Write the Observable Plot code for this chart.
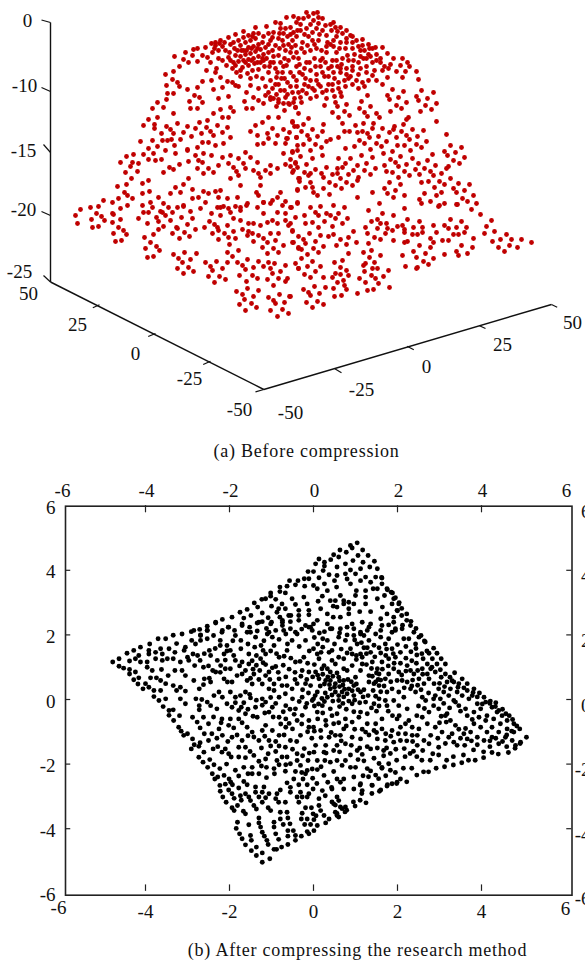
<!DOCTYPE html>
<html><head><meta charset="utf-8">
<script src="https://cdn.jsdelivr.net/npm/d3@7"></script>
<script src="https://cdn.jsdelivr.net/npm/@observablehq/plot@0.6"></script>
<style>
html,body{margin:0;padding:0;background:#fff;width:585px;height:962px;overflow:hidden}
#a,#b{position:absolute;left:0}
#a{top:0}#b{top:470px}
.cap{position:absolute;font:18px "Liberation Serif",serif;color:#111;white-space:nowrap;transform:translate(-50%,-50%);letter-spacing:.78px}
</style></head><body>
<div id="a"></div><div id="b"></div>
<div class="cap" style="left:306.5px;top:451px">(a) Before compression</div>
<div class="cap" style="left:357.5px;top:950px">(b) After compressing the research method</div>
<script>
// Panel (a): points as read in the projected plane of the 3-D view
const redPoints=[
[174,56],[185,52],[192,55],[193,49],[197,48],[202,55],[183,59],[188,62],[197,61],[207,57],[210,62],[179,66],[165,74],[173,71],[206,70],[215,72],[172,79],[166,85],[177,82],[179,86],[202,81],[211,80],[220,77],[227,81],[232,82],[222,87],[213,89],[197,87],[187,89],[173,93],[167,93],[194,95],[199,97],[202,102],[189,101],[166,99],[157,102],[152,108],[163,107],[190,108],[197,108],[173,113],[218,98],[228,96],[244,101],[246,108],[252,108],[230,107],[233,111],[220,109],[213,113],[207,120],
[148,119],[143,125],[157,117],[154,124],[154,128],[166,126],[161,133],[170,129],[177,123],[187,126],[195,128],[199,122],[222,117],[228,117],[227,127],[217,125],[206,127],[210,131],[213,135],[201,133],[191,136],[183,132],[180,139],[173,133],[171,139],[162,140],[167,140],[152,140],[140,141],[148,148],[157,146],[174,145],[187,149],[197,147],[202,142],[208,142],[215,145],[223,143],[230,137],[222,132],[250,131],[255,125],[262,122],[268,117],[278,117],[272,128],[257,135],[267,133],[268,138],[277,135],[283,129],[292,121],[297,126],[287,138],[296,137],[257,144],[263,143],[275,143],[285,143],
[120,162],[126,156],[133,154],[132,162],[138,163],[130,166],[125,172],[137,171],[131,178],[117,186],[126,184],[142,183],[148,180],[143,154],[148,159],[153,153],[155,160],[161,159],[165,150],[169,167],[163,172],[173,169],[179,164],[175,153],[187,150],[188,161],[195,155],[203,153],[198,160],[197,168],[203,173],[202,162],[208,168],[213,172],[218,165],[211,155],[222,157],[230,155],[228,163],[233,167],[236,171],[238,158],[245,152],[243,163],[245,168],[250,157],[257,162],[253,170],[258,173],[260,177],[265,170],[270,165],[277,168],[270,173],[285,164],[293,170],[295,163],[283,153],[292,152],[297,150],[298,178],
[188,178],[183,184],[175,187],[170,193],[180,192],[192,189],[203,191],[208,193],[215,191],[220,190],[230,178],[238,175],[240,185],[260,185],[256,192],[258,195],[280,192],[277,197],[272,200],[263,202],[285,201],[297,189],[297,202],[149,191],[142,193],[132,198],[127,195],[124,192],[118,198],[112,202],[103,200],[98,206],[127,205],[120,208],[112,213],[90,207],[80,209],[75,215],[142,205],[150,202],[158,197],[163,203],[152,207],[160,211],[168,207],[177,207],[183,205],[192,198],[198,197],[205,202],[218,197],[227,198],[237,197],[247,203],[240,207],[228,208],[220,207],
[77,223],[91,219],[96,213],[92,227],[98,226],[101,216],[104,220],[112,222],[113,214],[120,219],[118,227],[113,233],[123,230],[126,234],[115,241],[121,240],[138,218],[143,212],[148,212],[156,217],[158,221],[147,223],[163,226],[158,229],[153,234],[144,237],[150,242],[156,246],[159,250],[145,248],[153,256],[147,257],[162,212],[165,215],[170,220],[172,212],[176,227],[181,217],[183,206],[190,211],[192,218],[187,224],[177,228],[172,233],[184,232],[179,238],[189,236],[195,229],[204,227],[209,221],[200,208],[211,213],[217,207],[223,206],[220,215],[230,212],[235,206],[240,210],[246,205],[248,223],[240,220],[233,218],[227,225],[217,227],[214,224],[218,230],[224,233],[212,233],[218,239],[233,231],[228,237],[235,238],[229,244],[238,250],[227,252],[232,256],[227,262],[237,262],[242,265],[247,259],[245,269],[253,267],[258,261],[263,266],[268,262],[270,268],[274,263],[285,265],[280,271],[272,273],[287,278],[285,281],[278,278],[267,279],[273,285],[257,278],[252,275],[246,281],[239,275],[205,262],[210,266],[216,261],[212,270],[222,268],[208,276],[219,276],[214,282],[225,279],[173,254],[178,258],[184,252],[182,262],[190,259],[196,253],[188,267],[177,268],[193,271],[183,273],[236,291],[247,288],[258,290],[253,296],[242,294],[244,299],[239,304],[251,303],[256,307],[245,310],[268,297],[273,300],[275,303],[289,296],[279,294],[284,302],[270,310],[282,309],[288,313],[277,316],
[252,233],[247,235],[253,241],[258,235],[263,238],[267,242],[262,247],[267,253],[273,248],[278,252],[283,245],[275,240],[270,233],[278,233],[267,222],[277,223],[272,220],[285,220],[288,225],[293,242],[292,230],[298,247],[295,263],[298,268],[263,213],[257,207],[263,202],[270,203],[277,212],[282,205],[290,207],[248,231],[242,229],[253,223],[260,225],
[306,12],[313,13],[317,12],[318,17],[322,18],[333,22],[330,24],[340,27],[335,27],[346,30],[350,35],[362,39],[368,44],[382,47],[387,53],[393,58],[402,58],[407,62],[400,65],[409,66],[416,71],[396,71],[405,71],[402,77],[418,79],[387,77],[392,89],[403,91],[421,90],[433,92],[387,95],[389,99],[398,97],[416,96],[418,100],[427,98],[436,103],[406,102],[396,105],[401,108],[425,105],[431,109],[420,111],[390,111],[436,121],[408,117],[406,119],[403,124],[446,134],[450,145],[461,147],[455,152],[444,151],[447,155],[464,157],[453,160],[459,163],[432,154],[427,160],[418,163],[435,165],[448,166],[446,168],[441,173],[430,171],[433,175],[424,168],[415,169],[409,175],[419,174],[404,171],[398,177],[392,172],[386,171],[384,165],[375,168],[370,174],[364,170],[366,163],[357,165],[353,170],[350,158],[345,163],[342,167],[338,158],[326,167],[322,155],[337,168],[337,173],[332,174],[348,174],[358,177],[357,180],[346,182],[352,185],[340,178],[341,188],[335,185],[329,182],[321,173],[323,177],[315,169],[310,173],[304,172],[299,178],[299,181],[308,175],[310,182],[305,187],[297,190],[312,187],[313,192],[317,195],[323,188],[329,194],[372,192],[357,197],[384,188],[387,193],[395,190],[393,197],[389,182],[400,184],[404,195],[419,199],[421,203],[424,193],[430,201],[421,182],[428,181],[434,187],[439,181],[444,184],[450,178],[458,183],[453,188],[456,192],[464,190],[469,184],[473,195],[462,198],[467,201],[476,203],[471,209],[480,214],[457,204],[444,203],[439,205],[436,195],[441,192],
[531,242],[521,239],[517,247],[511,239],[509,245],[504,251],[498,247],[500,239],[492,241],[506,234],[494,231],[484,233],[486,226],[491,220],[473,238],[472,247],[467,253],[458,255],[456,251],[461,245],[464,232],[466,227],[456,227],[461,221],[450,219],[444,225],[448,228],[453,234],[458,234],[448,240],[442,240],[436,232],[433,225],[430,238],[433,242],[430,247],[425,253],[444,254],[433,258],[428,264],[423,261],[417,267],[416,257],[413,251],[419,245],[422,227],[419,221],[413,227],[412,234],[417,234],[422,232],[407,219],[402,225],[397,226],[404,229],[404,232],[407,241],[404,242],[393,240],[392,230],[387,228],[385,233],[380,239],[374,237],[368,243],[367,233],[365,227],[377,228],[371,221],[377,219],[382,213],[393,215],[386,223],[380,223],[402,255],[405,266],[416,268],[371,250],[363,252],[380,255],[369,257],[374,262],[365,263],[363,265],[364,271],[372,268],[377,268],[388,270],[371,275],[375,278],[383,276],[359,278],[365,282],[378,283],[389,287],[373,289],[367,290],[357,293],[348,275],[346,270],[340,274],[342,260],[334,262],[340,267],[335,273],[332,277],[323,277],[337,282],[343,280],[344,285],[346,289],[333,288],[325,287],[334,296],[341,295],[319,293],[314,286],[308,292],[303,289],[310,295],[306,302],[312,307],[317,301],[323,304],[290,296],[320,266],[315,271],[310,277],[304,274],[307,266],[298,268],[301,258],[312,261],[307,254],[318,252],[313,248],[323,246],[301,249],[298,248],[315,241],[305,243],[303,239],[309,233],[320,235],[328,236],[333,234],[336,245],[346,244],[340,239],[348,237],[353,231],[356,242],[348,253],[292,242],[298,236],[292,231],[305,223],[312,222],[318,227],[324,221],[332,226],[335,218],[342,223],[347,218],[338,213],[330,215],[326,213],[318,215],[315,212],[304,215],[295,217],[344,207],[333,205],[320,206],[310,207],[297,203],[291,207],[285,213],[290,223],[368,210],[379,203],[404,208],[438,206],[456,204],
[292,122],[303,124],[308,118],[294,126],[323,124],[312,129],[322,131],[289,132],[301,131],[307,135],[317,136],[296,137],[309,139],[330,139],[326,141],[338,137],[344,131],[349,131],[355,125],[357,132],[362,131],[363,123],[342,123],[338,117],[349,115],[344,111],[346,104],[335,102],[337,106],[332,112],[324,105],[341,96],[359,108],[361,101],[367,95],[364,112],[367,116],[370,106],[376,113],[379,117],[373,123],[372,128],[382,128],[394,126],[393,129],[389,132],[401,131],[412,129],[423,130],[367,133],[369,137],[378,136],[386,141],[396,137],[406,135],[409,139],[417,136],[426,141],[416,144],[421,147],[404,145],[397,145],[410,150],[392,151],[381,146],[376,143],[370,149],[364,143],[359,140],[354,146],[345,148],[383,153],[372,157],[361,155],[400,156],[390,159],[395,162],[398,166],[406,164],[412,158],[297,145],[303,144],[315,144],[321,147],[310,150],[292,151],[300,156],[312,158],[290,159],[295,162],[297,167],[306,164],[292,172],[290,166],[286,138],[289,104],[295,107],[298,113],
[205,47],[211,43],[215,42],[220,40],[228,37],[235,34],[243,31],[255,27],[253,33],[266,26],[275,22],[280,23],[286,17],[293,16],[298,18],[280,28],[273,32],[283,33],[290,27],[293,32],
[240,45],[245,42],[250,40],[255,38],[237,50],[243,50],[248,47],[253,46],[258,44],[262,42],[235,55],[240,56],[245,54],[250,53],[255,51],[260,49],[265,47],[270,40],[238,61],[243,60],[248,59],[253,58],[258,56],[263,54],[233,62],[228,57],[225,50],[222,46],[218,50],[215,45],[212,52],[218,58],[222,60],[226,65],[216,68],[232,68],[236,72],[242,67],[248,65],[254,63],[260,62],[266,58],[272,50],[275,45],[278,38],[282,40],[287,36],[240,76],[247,73],[252,70],[258,69],[264,66],[270,62],[268,72],[275,68],[280,62],[278,55],[285,50],[288,44],[292,40],[296,36],[300,30],[295,45],[290,52],[284,58],[286,65],[282,72],[276,77],[270,80],[278,84],[284,78],[290,72],[296,66],[298,58],[304,52],[302,42],[308,36],[306,28],[310,24],[300,24],[312,32],[316,28],[322,30],[326,35],[318,40],[316,48],[310,50],[314,58],[306,62],[310,70],[302,74],[296,80],[290,86],[284,90],[276,94],[270,97],[278,99],[285,97],[292,92],[298,92],[304,84],[310,80],[316,74],[320,66],[322,58],[326,52],[330,44],[336,36],[340,42],[345,48],[352,42],[358,46],[364,50],[372,48],[376,54],[380,58],[372,62],[366,58],[360,56],[354,54],[348,60],[342,58],[336,52],[332,60],[328,68],[324,76],[318,84],[312,88],[306,93],[300,97],[294,98],[328,84],[334,78],[340,72],[346,68],[352,66],[360,68],[366,66],[374,70],[380,62],[384,66],[388,68],[344,80],[338,88],[332,90],[322,92],[316,96],[310,98],[350,76],[356,80],[362,82],[368,80],[376,80],[382,84],[337,66],
[273,98],[278,102],[265,95],[270,99],[258,100],[253,97],[246,92],[238,86],[235,85],[250,85],[263,103],[284,110],[288,103],[295,107],
[214,48],[219,43],[224,42],[230,44],[234,48],[229,52],[233,42],[238,40],[243,37],[248,35],[252,36],[258,33],[263,36],[268,33],[272,37],[268,44],
[296,22],[303,18],[308,16],[313,20],[318,23],[325,25],[331,30],[337,31],[342,33],[346,38],[352,36],[290,34],[285,28],[279,33],[297,30],[304,34],[312,40],[319,34],[327,42],[333,40],
[356,40],[362,45],[369,48],[375,47],[368,54],[360,50],[352,48],[346,42],[339,48],[333,46],[326,46],[321,50],[314,44],[307,45],[301,48],[296,52],[291,47],[283,45],[279,48],[273,56],[268,52],[262,58],[257,48],[251,48],[246,50],[241,50],
[230,60],[235,65],[240,70],[245,62],[251,60],[257,62],[263,60],[269,66],[273,62],[277,72],[283,66],[288,60],[293,57],[299,64],[304,68],[309,62],[315,66],[320,60],[325,62],[331,66],[336,60],[341,64],[347,55],[353,60],[358,62],[363,58],[370,56],[376,60],[382,70],[390,64],[372,75],[366,72],[358,74],[352,70],[346,74],[340,68],[333,72],[328,76],[322,72],[316,80],[305,78],[299,72],[293,76],[287,82],[281,78],[275,84],
[262,78],[256,76],[250,78],[265,86],[272,88],[280,90],[287,94],[296,86],[302,90],[308,86],[314,90],[320,86],[326,90],[332,84],[338,82],[345,86],[352,84],[358,88],[364,86],[340,92],[348,78],[334,96],[326,98],[301,102],[293,102],[283,103],[276,106],[268,92],[258,88]
];
// Panel (a) axes of the 3-D box
const zAxisLabels=["0","-10","-15","-20","-25"];
const leftAxisLabels=["50","25","0","-25","-50"];
const rightAxisLabels=["-50","-25","0","25","50"];
const frame3d=[{a:[50,22],b:[50,281.5]},{a:[50,281.5],b:[263.3,389]},{a:[263.3,389],b:[551,304]}];
const ticks3d=[
{a:[41,19.5],b:[50,22]},{a:[41,87],b:[50,91]},{a:[43,144],b:[50,152]},{a:[41,211],b:[50,215]},{a:[43,275],b:[50,281.5]},
{a:[92.3,307.3],b:[99,304.3]},{a:[147.7,336],b:[155,333]},{a:[202.7,364],b:[210,360.7]},{a:[255,391.3],b:[263.3,389]},
{a:[334.3,368.3],b:[341,372.3]},{a:[406.7,345.7],b:[413.3,349.3]},{a:[479,325.3],b:[485,328]},{a:[551,304],b:[556.7,306.7]}
];
const labels3d=[
...zAxisLabels.map((t,i)=>({t,p:[[27,20],[24,85],[23,150],[23,209],[19,271]][i]})),
...leftAxisLabels.map((t,i)=>({t,p:[[28,293],[77,324],[135,353],[189,378],[239,409]][i]})),
...rightAxisLabels.map((t,i)=>({t,p:[[290,412],[361,389],[426,366],[502,344],[572,322]][i]}))
];
// Panel (b): values on the [-6,6] axes
const xTicks=[-6,-4,-2,0,2,4,6];
const yTicks=[-6,-4,-2,0,2,4,6];
const blackLeft=[
[-4.78,1.16],[-4.63,1.26],[-4.63,1.03],[-4.52,.97],[-4.44,1.43],[-4.38,1.19],[-4.38,.93],[-4.38,.79],[-4.28,1.52],[-4.24,.85],[-4.28,.61],[-4.18,.48],[-4.12,1.62],[-4.24,1.26],[-4.16,1.36],[-4.12,1.16],[-4.16,.67],[-4.06,.33],[-4,.49],[-3.9,1.72],[-3.92,1.52],[-3.92,1.41],[-3.96,1.16],[-3.96,1],[-3.84,.9],[-3.88,.67],[-3.92,.38],[-3.8,.28],[-3.8,.09],[-3.76,1.26],[-3.76,1.46],[-3.7,1.88],[-3.64,1.57],[-3.6,1.41],[-3.6,1.21],[-3.62,.93],[-3.74,.67],[-3.64,.59],[-3.52,.49],[-3.64,.28],[-3.68,-.03],[-3.58,-.22],[-3.52,.02],[-3.44,-.34],[-3.52,1.88],[-3.44,1.57],[-3.48,1.26],[-3.46,.74],[-3.34,1.99],[-3.26,1.73],[-3.3,1.46],[-3.34,1.26],[-3.3,.9],[-3.34,.43],[-3.26,.28],[-3.34,-.32],[-3.44,-.49],[-3.33,-.65],[-3.19,-.5],[-3.13,2.03],[-3.05,1.62],[-3.08,1.52],[-3,1.31],[-3.17,1.16],[-3.13,.9],[-3.05,.74],[-3.17,.38],[-3.05,.26],[-3.17,.02],[-3.05,-.13],[-3.21,-.86],[-3.09,-1.11],[-3.15,-.98],[-2.85,2.14],[-2.9,1.83],[-2.81,1.72],[-2.87,1.41],[-2.76,1.36],[-2.97,1.21],[-2.83,1.05],[-2.7,1.21],[-2.62,1],[-2.85,.59],[-2.6,.64],[-2.72,.33],[-2.8,.02],[-2.66,0],[-2.53,-.08],[-2.72,-.19],[-2.72,-.32],[-2.45,-.19],[-2.88,-.55],[-2.77,-.7],[-2.62,-.55],[-2.7,-.88],[-2.5,-.75],[-3,-1.06],[-2.88,-1.22],[-2.6,-1.06],[-2.5,-1.27],
[-2.69,1.98],[-2.69,1.83],[-2.53,2.14],[-2.53,1.88],[-2.38,1.98],[-2.22,1.83],[-2.22,1.67],[-2.06,1.67],[-2.13,1.41],[-1.98,1.52],[-2.45,1.36],[-2.29,1.21],[-2.21,1.05],[-2.33,.85],[-2.13,.64],[-2.05,.54],[-2.45,.54],[-2.25,.23],[-2.37,.12],[-2.17,.07],[-1.98,.23],[-2.06,-.13],[-2.3,-.29],[-1.86,.07],[-1.74,.12],[-1.62,.23],[-1.5,.05],[-1.94,.54],[-1.7,.79],[-1.54,1.1],[-1.46,1.2],[-1.86,1.21],[-1.7,1.16],[-2.1,.95],[-1.98,.95],[-1.82,.74],[-1.58,.59],[-1.46,.48],[-1.22,.02],[-1.22,.48],[-1.14,.74],[-1.06,.85],[-1.42,.79],[-1.54,1.41],[-1.73,1.83],[-1.86,1.98],[-2.02,2.24],[-2.18,2.08],[-2.33,2.39],[-1.7,2.29],[-1.73,1.57],[-1.5,2.08],[-1.38,1.93],[-1.3,2.39],[-1.25,1.67],[-1.1,2.03],[-1,2.39],[-.98,1.93],[-.94,1.67],[-1.14,1.41],[-1.26,1.26],[-.82,1.31],[-.66,2.03],[-.74,2.39],[-.51,1.83],[-.63,1.52],[-.43,1.16],[-.19,1.83],[-.07,2.24],[-.39,2.03],[-.11,.85],[-.27,.9],[-.23,1.31],[-.82,.64],[-.94,.48],[-.75,.43],[-.63,.43],[-1.06,.33],[-.94,.28],[-.82,.07],[-.67,.18],[-.51,.33],[-.39,.49],[-.19,.49],[-.07,.43],[-.5,.02],[-.27,.07],[-.43,-.29],[-.19,-.24],[-.03,-.03],[-.66,-.19],[-.98,-.24],[-1.14,-.08],[-1.06,-.39],[-1.38,-.24],[-1.34,-.55],[-1.62,-.44],[-1.78,-.34],[-1.78,-.6],[-1.94,-.24],[-2.18,-.6],[-1.98,-.6],[-2.25,-.91],[-2.02,-.8],[-1.9,-.88],[-1.58,-.86],[-1.46,-1.01],[-2.17,-1.11],[-1.94,-1.17],[-1.7,-1.27],[-1.22,-.96],[-1.14,-.8],[-.98,-.96],[-.82,-1.11],[-.66,-.86],[-.5,-.91],[-.39,-.65],[-.27,-.49],[-.11,-.65],[-.11,-.86],[-.31,-1.11],[-.55,-1.27],[-.82,-.55],[-.66,-.6],[-1.3,-1.27],[-1.06,-1.27]
];
const blackRight=[
[2.31,2.29],[2.39,2.08],[2.51,1.93],[2.64,1.81],[2.86,1.59],[2.94,1.43],[3.04,1.26],[3.14,1.1],[3.36,.83],[3.54,.64],[3.82,.33],[3.95,.2],[4.21,-.05],[4.33,-.22],[4.41,-.34],[4.61,-.65],[4.77,-.75],[4.91,-.91],[5.07,-1.17],
[2.75,1.43],[2.83,1.26],[2.94,1.1],[3.02,.92],[3.14,.79],[3.25,.69],[3.34,.54],[3.46,.49],[3.66,.49],[3.66,.28],[3.78,.12],[4.06,.07],[4.1,-.08],[4.25,-.24],[4.37,-.39],[4.49,-.5],
[2.61,1.26],[2.71,1.1],[2.79,.95],[2.9,.85],[3.04,.69],[3.18,.54],[3.26,.33],[3.42,.23],[3.54,.12],[3.7,.02],[3.9,-.13],[3.98,-.29],[4.13,-.5],[4.29,-.6],[4.45,-.75],[4.61,-.91],[4.77,-1.01],[4.93,-1.32],
[2.45,1.12],[2.59,.95],[2.71,.79],[2.75,.64],[2.87,.49],[2.98,.33],[3.1,.23],[3.22,.12],[3.34,-.03],[3.46,-.19],[3.62,-.29],[3.82,-.39],[3.94,-.55],[4.1,-.65],[4.25,-.86],[4.41,-1.01],[4.57,-1.17],[4.73,-1.27],[4.81,-1.42],
[2.31,.9],[2.39,.79],[2.51,.64],[2.63,.49],[2.31,.33],[2.43,.23],[2.59,.07],[2.67,-.03],[2.9,.12],[3.02,.02],[2.86,-.19],[2.98,-.29],[3.14,-.5],[3.26,-.65],[3.38,-.8],[3.58,-1.06],[3.66,-1.22],[3.42,-1.42],[3.18,-.44],[2.75,-.39],[2.59,-.55],[2.71,-.75],[2.9,-.86],[3.06,-1.01],[3.22,-1.17],[3.34,-1.32],[3.82,-.75],[3.98,-.86],[4.13,-1.01],[4.25,-1.17],[4.41,-1.37],[3.9,-1.17],[4.06,-1.27],[3.74,-1.01],[2.98,-1.48],[2.79,-1.11],[2.51,-.91],[2.47,-1.11],[2.63,-1.27],[2.35,-.86],[2.19,-.75],[2.27,-.65],[2.04,-.5],[2.23,-.29],[2.03,-.19],[1.91,-.03],[2.15,.07],[2.03,.23],[1.87,.33],[1.75,.23],[1.71,-.03],[1.56,.43],[1.48,.54],[1.71,.64],[1.99,.59],[2.11,.59],[2.23,.54],[2.03,.85],[1.91,.95],[1.79,.79],[1.56,.79],[1.52,.95],[1.4,1.16],[1.63,1.16],[1.79,1.26],[2.07,1.12],[1.95,1.31],[2.23,1.05],[2.07,1.46],[1.87,1.57],[1.71,1.72],[1.79,1.88],[1.95,2.14],[2.11,2.19],[2.27,1.88],[2.43,1.72],[2.15,1.88],[1.6,1.93],[1.48,2.03],[1.32,2.24],[1.63,2.29],[1.91,2.39],[1.32,1.83],[1.2,1.98],[1.12,2.03],[1.04,1.72],[.96,1.98],[.76,1.83],[.6,1.93],[.4,2.19],[.33,1.83],[.88,1.57],[.92,1.41],[1.12,1.41],[1.16,1.31],[1.36,1.46],[.72,1.26],[.6,1.31],[.44,1.52],[.37,1.46],[.09,1.41],[0,1.57],[.13,1.26],[.44,1.21],[.52,1.1],[.92,1.05],[.8,.9],[1.16,1.1],[1.32,.74],[1.12,.9],[1,.69],[.72,.95],[.6,.69],[.4,.85],[.25,1.05],[.33,.95],[.05,.85],[.13,.64],[.29,.59],[.4,.59],[.52,.49],[.72,.59],[1.32,.54],[1.44,.49],[1.12,.23],[.96,.43],[.84,.33],[.68,.23],[.52,.23],[.4,.33],[.6,-.03],[.33,.07],[.09,.23],[0,.02],[.21,-.19],[.4,-.29],[.56,-.44],[.76,-.6],[.96,.12],[.92,-.13],[1.12,-.39],[1.24,-.08],[1.44,-.13],[1.56,.02],[1.75,-.19],[1.63,-.6],[1.48,-.75],[1.28,-.75],[1.08,-.55],[.92,-.7],[.72,-.91],[.48,-.75],[.29,-.65],[.09,-.39],[0,-.86],[.17,-.96],[.37,-1.17],[.52,-1.11],[.64,-1.11],[.92,-1.17],[1.12,-1.22],[1.24,-1.01],[1.44,-.96],[1.63,-.91],[1.87,-.96],[1.99,-.6],[2.07,-.86],[2.19,-1.06],[2.35,-1.11],[1.52,-1.22],[1.71,-1.27],[1.91,-1.32],[2.07,-1.27],[2.47,-1.42],[2.75,-1.37],[.05,-1.42],[.29,-1.42],[.56,-1.42],[.76,-1.37],
[1.83,-1.67],[1.98,-1.88],[2.18,-1.77],[2.3,-1.67],[2.46,-1.77],[2.14,-2.13],[2.34,-2.13],[2.78,-1.88],[2.58,-1.88],[2.98,-1.72],[3.17,-1.88],[3.33,-1.77],[3.57,-1.72],[3.81,-1.56],[4.05,-1.62],[4.2,-1.46],[4.6,-1.46],[1.83,-2.19],[1.63,-2.13],[1.55,-2.45],[1.39,-2.65],[1.31,-2.39],[1.11,-2.65],[1.15,-2.91],[.95,-3.17],[1.11,-3.12],[.75,-3.48],[.56,-3.53],[.52,-3.27],[.44,-3.17],
[4.92,-1.36],[4.8,-1.51],[4.64,-1.64],[4.4,-1.69],[4.25,-1.64],[4.05,-1.8],[3.85,-1.88],[3.69,-1.88],[3.53,-1.96],[3.33,-2.03],[3.12,-2.08],[2.92,-2.13],[2.74,-2.24],[2.62,-2.24],[2.46,-2.34],[2.22,-2.55],[1.98,-2.6],[1.75,-2.68],[1.57,-2.84],[1.39,-2.91],[1.25,-3.2],[.99,-3.3],[.79,-3.43],[.6,-3.64],
[1.62,3.78],[1.76,3.4],[1.88,3.3],[1.95,3.15],[2.04,3],[2.1,2.82],[2.22,2.65],[2.32,2.42],[2.44,2.2],[2.56,1.98],[2.66,1.78],[2.1,2.6],[2,2.75],[2.12,2.3],[2.22,2.45]
];
const blackLower=[
[-2.91,-1.53],[-2.73,-1.79],[-2.63,-1.94],[-2.52,-2.1],[-2.41,-2.3],[-2.35,-2.46],[-2.23,-2.66],[-2.22,-2.84],[-2.16,-3.02],[-2.08,-3.18],[-1.94,-3.35],[-1.81,-3.28],[-1.89,-3.44],[-1.67,-3.46],[-1.62,-3.54],
[-2.73,-1.45],[-2.61,-1.63],[-2.47,-1.86],[-2.37,-2.02],[-2.23,-2.14],[-2.13,-2.35],[-2.01,-2.46],[-1.97,-2.56],[-1.93,-2.64],[-2.07,-2],[-1.86,-2.19],[-1.78,-2.37],[-1.66,-2.1],[-1.66,-2.54],[-1.58,-2.64],[-1.94,-2.92],[-1.89,-3.06],[-1.62,-2.92],[-1.54,-3.02],[-1.5,-3.13],[-1.42,-3.28],[-1.36,-3.39],[-1.38,-2.71],[-1.18,-2.71],[-1.38,-2.87],[-1.22,-2.87],[-1.06,-2.92],[-1.3,-3.02],[-1.14,-3.04],[-1.22,-3.18],[-1.08,-3.35],[-1.02,-3.44],[-.9,-3.07],[-.83,-3.18],[-.87,-2.92],[-.79,-2.8],[-.67,-3.18],[-.39,-3.02],[-.35,-3.18],[-.27,-3.02],[-.15,-3.02],[-.11,-2.92],[-.31,-2.87],[-.55,-2.87],[-.55,-2.72],[-.63,-2.58],[-.47,-2.46],[-.25,-2.46],[-.35,-2.64],[-.15,-2.64],[-.01,-2.77],[.21,-2.82],[.44,-2.77],[.64,-2.56],[.72,-2.77],[.96,-2.77],[1.12,-2.61],[1.16,-2.82],[1.4,-2.66],[1.6,-2.8],[1.76,-2.64],[1.87,-2.61],[1.99,-2.56],[.56,-3.02],[.6,-3.13],[.48,-3.23],[.64,-3.33],[.68,-3.38],[.76,-3.33],[.52,-3.49],[.56,-3.59],[.13,-3.07],[.13,-3.28],[.17,-3.44],[.25,-3.59],[.37,-3.7],[.29,-3.82],[.09,-3.9],[.01,-4.06],[-.11,-4.16],[-.29,-4.23],[-.43,-4.36],[-.61,-4.49],[-.76,-4.57],[-.88,-4.64],[-.94,-4.64],[-1.04,-4.93],[-1.22,-5.04],[-1.22,-4.75],[-1.36,-4.83],[-1.48,-4.68],[-1.62,-4.5],[-1.7,-4.31],[-1.76,-4.16],[-1.84,-3.99],[-1.81,-3.8],[-1.54,-3.88],[-1.5,-4.21],[-1.48,-4.36],[-1.36,-4.57],[-1.3,-3.67],[-1.3,-3.82],[-1.26,-3.95],[-1.22,-4.11],[-1.17,-4.23],[-1.11,-4.36],[-1.08,-4.49],[-.94,-3.8],[-.94,-3.95],[-.9,-4.16],[-.83,-4.33],[-.79,-3.49],[-.79,-3.7],[-.63,-3.49],[-.61,-3.67],[-.72,-3.87],[-.56,-3.85],[-.61,-4.06],[-.48,-4.06],[-.61,-4.23],[-.43,-4.21],[-.27,-3.52],[-.19,-3.35],[-.05,-3.35],[-.01,-3.54],[-.29,-3.7],[-.15,-3.7],[.01,-3.72],[-.21,-3.87],[-.07,-3.87],[-.15,-4.09],
[-2.39,-1.53],[-2.1,-1.53],[-2.18,-1.63],[-1.96,-1.78],[-1.78,-1.78],[-1.62,-1.48],[-1.51,-1.61],[-1.42,-1.73],[-1.3,-1.91],[-1.46,-2.1],[-1.46,-2.3],[-1.3,-2.3],[-1.12,-2.1],[-.94,-2.14],[-.93,-2.3],[-.87,-1.89],[-.75,-1.78],[-.63,-1.78],[-.9,-1.61],[-.67,-1.48],[-.39,-1.68],[-.39,-1.89],[-.55,-1.99],[-.31,-2.04],[-.13,-1.89],[.01,-1.63],[.09,-1.89],[-.15,-2.2],[-.03,-2.15],[.09,-2.17],[-.67,-2.22],[-.43,-2.23],[-.19,-2.3],[.25,-2.35],[.27,-1.89],[.48,-2.23],[.56,-1.89],[.76,-1.89],[.72,-2.46],[.56,-2.46],[.43,-2.72],[.25,-1.63],[.48,-1.58],[.88,-2.1],[1,-2.1],[1.16,-1.7],[1.04,-1.58],[1.28,-2.14],[1.36,-2.21],[1.56,-1.98],[1.44,-1.82],[1.67,-1.74],[1.79,-1.99],[1.63,-2.1],[1.95,-2.26],[2.07,-2.46],[1.36,-1.53],[1.67,-1.58]
];
const blackUpper=[
[1.04,4.85],[.88,4.77],[.92,4.69],[.63,4.63],[.78,4.56],[1.17,4.63],[1.06,4.46],[1.3,4.46],[.48,4.48],[.6,4.41],[.41,4.33],[.13,4.35],[.05,4.2],[.26,4.25],[.26,4.13],[.76,4.2],[.56,4.1],[.94,4.3],[1.18,4.25],[1.45,4.28],[1.34,4.1],[1.52,4.05],[1.12,4.05],[-.13,3.96],[0,3.96],[.23,3.99],[.88,4.01],[.37,3.86],[.56,3.84],[.76,3.89],[1,3.89],[1.24,3.79],[1.48,3.79],[1.63,3.76],[-.57,3.68],[-.37,3.68],[-.22,3.74],[-.11,3.74],[.13,3.77],[-.43,3.55],[-.63,3.51],[-.21,3.51],[0,3.53],[.26,3.58],[.5,3.68],[.8,3.73],[1.12,3.68],[1.36,3.63],[1.63,3.58],[-.8,3.48],[-.8,3.34],[-.67,3.3],[-1.02,3.3],[-1.02,3.2],[.09,3.43],[.33,3.37],[.55,3.48],[.88,3.58],[1.02,3.37],[1.24,3.37],[1.42,3.43],[1.52,3.43],[1.75,3.43],[1.85,3.32],[-1.23,3.1],[-1.14,3.12],[-.9,3.1],[-1.41,2.99],[-1.33,2.86],[-1.58,2.79],[-1.75,2.7],[-1.94,2.55],[-2.17,2.48],[-2.33,2.37],[-2.53,2.27],[-2.71,2.17],[-2.91,2.1],[-1.7,2.34],[-1.49,2.6],[-1.22,2.68],[-1.08,2.53],[-1,2.89],[-.83,2.81],[-.75,2.96],[-.67,2.81],[-.87,2.7],[-.51,3.12],[-.23,3.17],[-.43,2.94],[-.35,2.76],[-.35,2.6],[-.59,2.6],[-.8,2.55],[-.15,2.96],[-.11,2.76],[-.11,2.62],[.11,3.04],[.21,3.2],[.4,3.06],[.52,3.06],[.64,3.22],[.72,3.06],[.17,2.81],[.47,2.89],[.72,2.96],[.84,3.01],[1,3.22],[1.24,3.17],[1.52,3.12],[1.69,3.22],[1.91,3.12],[.96,2.96],[1.24,2.96],[.84,2.81],[.56,2.86],[1.1,2.72],[1.36,2.72],[1.64,2.86],[1.87,2.96],[2.03,2.96],[1.75,2.65],[.33,2.65],[.47,2.55],[.64,2.55],[.84,2.65],[.92,2.34],[1.16,2.39],[1.6,2.5],[1.91,2.55],[1.99,2.76],[.09,2.45],[0,2.34],[-.11,2.24],[-.19,2.29],[.33,2.34],[.44,2.19],[.8,2.24],[1.36,2.34],[1.79,2.31],[1.95,2.19],[-.35,2.45],[-.55,2.41],[-.74,2.45],[-.74,2.29],[-1.02,2.34],[-1.22,2.41],[-1.34,2.37],[-.55,2.19],[-.43,2.08],[-.03,2.14],[.64,2.19],[.96,2.19],[1.12,2.08],[1.28,2.14],[1.6,2.14],[1.87,2.08],[-.71,2.14],[-1.06,2.08],[-1.58,2.08],[-1.88,2.14],[-2.03,2.24],[-2.17,2.14],[-2.53,2.14],[-2.69,2]
];
const blackCentre=[
[.2,.95],[.1,.75],[.22,.78],[.34,.7],[.46,.72],[.56,.82],[.62,.58],[.7,.45],[.82,.62],[.9,.55],[1.02,.48],[.16,.42],[.26,.48],[.38,.46],[.5,.38],[.62,.4],[.74,.32],[.8,.18],[.92,.27],[1.06,.3],[1.2,.3],[1.18,.08],[.28,.2],[.44,.14],[.6,.12],[.72,.08],[.04,.12],[.2,.03],[.46,-.05],[.7,-.12],[.84,-.05],[.98,-.02],[1.1,-.1],[1.3,.12],[1.42,.28],[1.6,.24],[1.48,.1],[1.68,.42],[1.84,.55],[1.54,.62],[1.4,.72],[1.6,.6],
[1.02,1.24],[1.26,1.08],[1.38,.96],[1.5,.82],[1.64,.94],[1.78,1.04],[1.92,1.12],[1.26,1.42],[1.46,1.32],[1.6,1.44],[1.72,1.36],[1.44,1.68],[1.56,1.6],[1.2,1.6],[1.02,1.36],[.8,1.44],[.66,1.56],[.5,1.72],[.22,1.62],[.18,1.46],[.1,1.72],[.22,1.88],[.02,1.92],[.14,2.06],[.26,2.1],[.62,2.06],[.8,2],[.98,1.84],[1.14,1.76],[1.28,1.6],[1.74,1.56],[1.9,1.42],[2,1.7],[2.2,1.64],[2.32,1.48],[2.44,1.58],[2.2,1.28],[2.34,1.2],[2.46,1.38],[2.58,1.42],[2.7,1.5],[2.82,1],[2.6,.78],[2.48,.9],[2.36,.6],[2.48,.44],[2.16,.36],[2.1,.76],[2.2,.88],[2.34,.42],
[3,.5],[3.12,.4],[3.3,.58],[3.44,.38],[3.58,.36],[3.8,.22],[3.9,.08],[4.02,-.14],[4.2,-.12],[4.34,-.1],[4.5,-.3],[4.66,-.5],[4.58,-.44],[4.74,-.62],[4.84,-.82],[3.1,-.12],[3.24,-.26],[3.38,-.08],[3.5,-.36],[3.66,-.5],[3.78,-.62],[2.56,.3],[2.74,.2],[2.86,.02],[2.5,-.2],[2.64,-.28],[2.46,-.5],[3.04,-.52],[3.16,-.7],[3.46,-.92],[3.62,-.9],[3.3,-1.06],[3.5,-1.2],[3,-.72],[2.96,-1.2],[3.14,-1.36],[3.76,-1.28],[3.6,-1.42],[3.9,-1.4],[4.2,-1.28],[4.34,-1.2],[4.5,-1.3],[4.6,-1.1],[4.72,-.98],
[1.78,-.36],[1.88,-.5],[1.5,-.36],[1.38,-.26],[1.56,-.2],[1.28,-.44],[.96,-.38],[.78,-.3],[.62,-.22],[.26,-.06],[.12,-.14],[.02,-.2],[.22,-.42],[.3,-.8],[.44,-.5],[.6,-.72],[.78,-.82],[.98,-.92],[1.16,-.92],[1.32,-1.1],[1.5,-1.02],[1.72,-1.06],[1.84,-1.14],[2.02,-1.06],[2.22,-1.28],[2.36,-1.3],[.1,-.6],[.02,-.98],[.18,-1.18],[.42,-1.02],[.66,-1.28],[.9,-1.42],[1.1,-1.5],[1.28,-1.46],[1.52,-1.5],[1.74,-1.5],[1.96,-1.54],[2.16,-1.52],[2.38,-1.6],[2.6,-1.58],[2.84,-1.68],[-.04,-1.2],[.3,-1.66],[.62,-1.62],[.88,-1.72],[1.06,-1.86],[1.2,-1.9],[.4,-1.94],[.68,-2.04],[.96,-2.4],[1.18,-2.36],[1.48,-2.34],[1.72,-2.36],[.18,-2.08],[.08,-2.6],[.34,-2.56],[.28,-2.98],
[-.9,1.02],[-.72,1.06],[-.58,.94],[-.44,.84],[-.3,.72],[-.16,.62],[-.02,.7],[-.84,.84],[-.98,.98],[-1.14,1.08],[-1.28,.9],[-1.36,1.06],[-1.44,.94],[-1.5,.66],[-1.3,.62],[-1.04,.62],[-.66,.7],[-.44,.62],[-.26,.3],[-.12,.2],[-.34,-.06],[-.16,-.12],[-.56,-.3],[-.72,-.38],[-.9,-.12],[-1.02,.06],[-1.22,-.18],[-1.36,-.02],[-1.52,.16],[-1.66,-.1],[-1.86,-.1],[-1.72,-.24],[-1.56,-.3],[-1.44,-.52],[-1.16,-.42],[-.96,-.54],[-.78,-.76],[-.58,-.74],[-.46,-.46],[-.28,-.76],[-.14,-1],[-.4,-1.3],[-.7,-1.1],[-.9,-1.3],[-1.16,-1.14],[-1.42,-1.16],[-1.56,-1.12],[-1.82,-1.1],[-2.04,-1.3],[-2.3,-1.2],[-2.42,-1.06],[-2.7,-1.34],[-2.84,-1.4],[-2.2,-.72],[-2.38,-.54],[-1.7,-.72],
[-2.48,.66],[-2.62,.46],[-2.5,1.04],[-2.4,.9],[-2.22,.84],[-2.6,1.42],[-2.48,1.52],[-2.34,1.58],[-2.1,1.22],[-2.06,1.5],[-1.9,1.36],[-1.76,1.04],[-1.62,.9],[-1.36,1.36],[-1.2,1.14],[-1.2,1.52],[-1.02,1.5],[-.88,1.42],[-.7,1.34],[-.54,1.28],[-.32,1.18],[-.14,1.12],[.02,1.08],[-1.56,1.72],[-1.4,1.62],[-1.92,1.82],[-.82,1.86],[-.62,1.72],[-.34,1.64],[-.1,1.5],[-1.18,1.82],[-1.52,2.24],[-1.34,2.12],[-1.12,2.2],[-.9,2.14],[-.54,2.6],[-1.66,2.52],[-.28,2.18],
[-2.28,-1.46],[-2.02,-1.68],[-1.78,-1.48],[-1.62,-1.8],[-1.24,-1.5],[-1.08,-1.68],[-1.14,-1.84],[-1.02,-1.44],[-.82,-1.44],[-.5,-1.54],[-.22,-1.52],[-.26,-1.74],[-.1,-1.66],[-1.56,-2.3],[-1.24,-2.06],[-1.12,-2.42],[-.82,-2.02],[-.66,-2.02],[-.28,-2.26],[-.02,-2.44],[-2.28,-2.4],[-2.1,-2.62],[-2.02,-2.8],[-1.78,-2.74],[-1.74,-2.98],[-1.72,-3.12],[.06,-3.6]
];
const blackPoints=[...blackLeft,...blackRight,...blackLower,...blackUpper,...blackCentre];
const axisText={fontSize:19,fontFamily:"Liberation Serif",fill:"#111"};
const A=Plot.plot({width:585,height:470,margin:0,
  x:{domain:[0,585],range:[0,585],axis:null},
  y:{domain:[0,470],range:[0,470],axis:null},
  marks:[
    Plot.link(frame3d,{x1:d=>d.a[0],y1:d=>d.a[1],x2:d=>d.b[0],y2:d=>d.b[1],stroke:"#111",strokeWidth:1.4}),
    Plot.link(ticks3d,{x1:d=>d.a[0],y1:d=>d.a[1],x2:d=>d.b[0],y2:d=>d.b[1],stroke:"#111",strokeWidth:1.2}),
    Plot.dot(redPoints,{x:d=>d[0],y:d=>d[1],r:2.4,fill:"#c00000",stroke:null}),
    Plot.text(labels3d,{x:d=>d.p[0],y:d=>d.p[1],text:d=>d.t,...axisText})
  ]});
document.getElementById("a").append(A);
const inner=xTicks.slice(1,-1), innerY=yTicks.slice(1,-1);
const B=Plot.plot({width:585,height:492,marginLeft:65,marginRight:13.5,marginTop:35.7,marginBottom:67.3,
  x:{domain:[-6,6],range:[61,565],axis:null},
  y:{domain:[-6,6],range:[422.8,35.2],axis:null},
  marks:[
    Plot.dot(blackPoints,{x:d=>d[0],y:d=>d[1],r:2.45,fill:"#000",stroke:null}),
    Plot.frame({stroke:"#222",strokeWidth:1.6}),
    Plot.ruleX(inner,{y1:6,y2:5.78,stroke:"#222",strokeWidth:1.2}),
    Plot.ruleX(inner,{y1:-5.94,y2:-5.74,stroke:"#222",strokeWidth:1.2}),
    Plot.ruleY(innerY,{x1:-5.9,x2:-5.78,stroke:"#222",strokeWidth:1.2}),
    Plot.ruleY(innerY,{x1:6.15,x2:6.03,stroke:"#222",strokeWidth:1.2}),
    Plot.text(xTicks,{x:d=>d,y:6,dy:-15,dx:1,text:d=>String(d),...axisText}),
    Plot.text(inner,{x:d=>d,y:-6,dy:19,text:d=>String(d),...axisText}),
    Plot.text([-6],{x:d=>d,y:-6,dy:15,dx:-3,text:d=>String(d),...axisText}),
    Plot.text([6],{x:d=>d,y:-6,dy:16,text:d=>String(d),...axisText}),
    Plot.text(yTicks,{x:-6,y:d=>d,dx:-6,dy:2,textAnchor:"end",text:d=>String(d),...axisText}),
    Plot.text(yTicks,{x:6,y:d=>d,dx:25,dy:6,textAnchor:"end",text:d=>String(d),...axisText})
  ]});
document.getElementById("b").append(B);
</script>
</body></html>
